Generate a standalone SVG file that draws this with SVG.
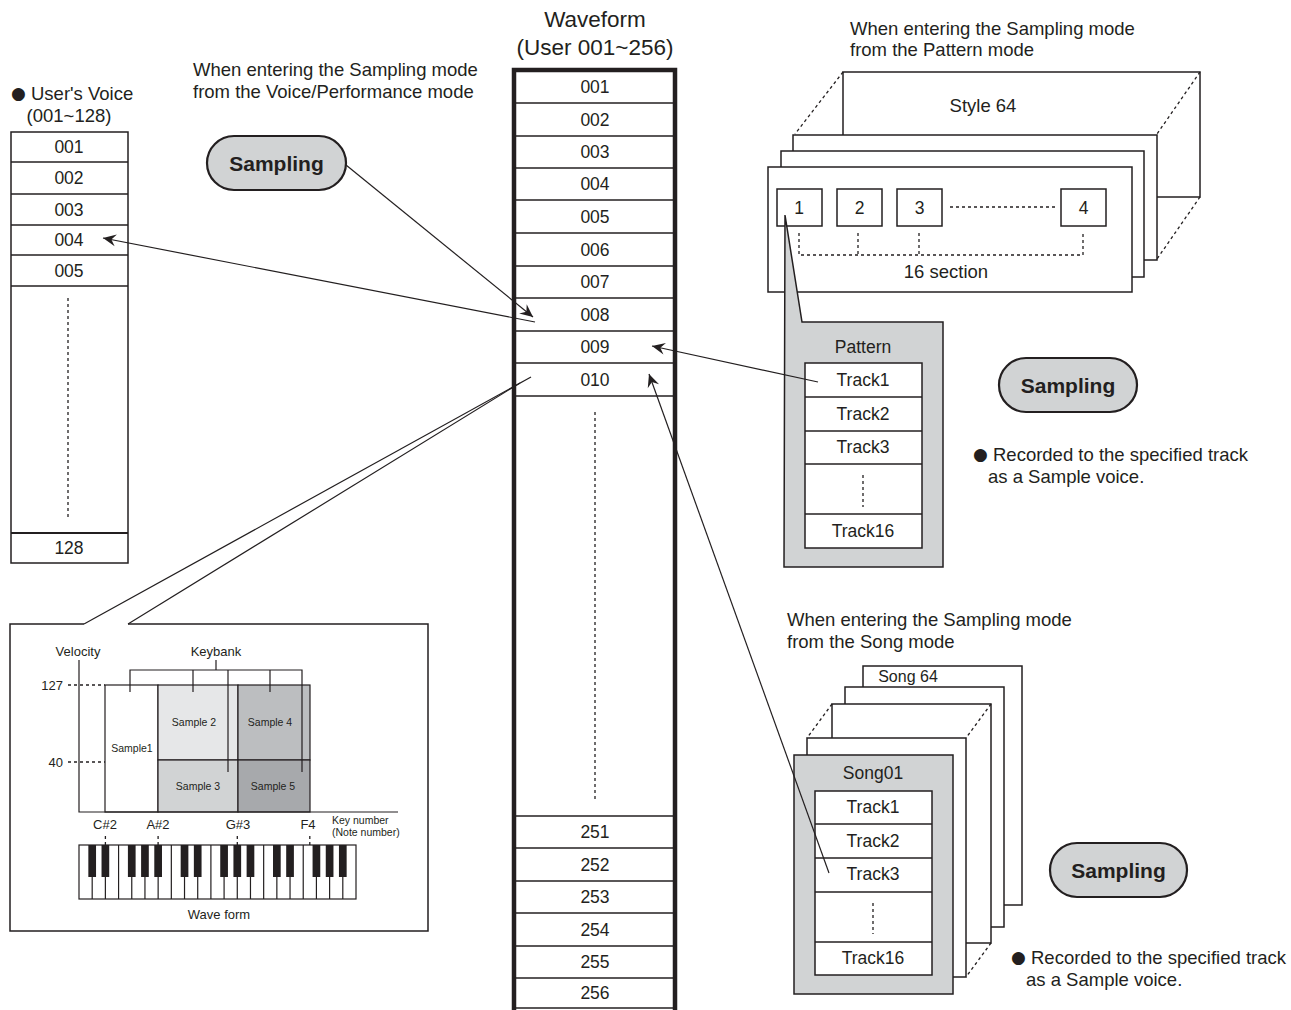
<svg xmlns="http://www.w3.org/2000/svg" width="1291" height="1010" viewBox="0 0 1291 1010">
<style>
.t{font-family:"Liberation Sans",Arial,sans-serif;fill:#231f20}
.c{text-anchor:middle;dominant-baseline:central}
.m{dominant-baseline:central}
.f18{font-size:18.5px}
.f17{font-size:17.5px}
.f16{font-size:16px}
.f13{font-size:13px}
.f10{font-size:10.5px}
.fb{font-size:21px;font-weight:bold}
.bul{font-family:"DejaVu Sans",sans-serif;font-size:17px}
.ln{stroke:#231f20;stroke-width:1.5;fill:none}
.thin{stroke:#231f20;stroke-width:1.2;fill:none}
.box{fill:#fff;stroke:#231f20;stroke-width:1.5}
.dot{stroke:#231f20;stroke-width:1.3;stroke-dasharray:3 3;fill:none}
.btn{fill:#d1d3d4;stroke:#231f20;stroke-width:2.2}
.grey{fill:#d1d3d4;stroke:#231f20;stroke-width:1.5}
.bk{fill:#231f20}
</style>
<defs>
<marker id="ah" viewBox="-15 -8 16 16" refX="0" refY="0" markerWidth="16" markerHeight="16" markerUnits="userSpaceOnUse" orient="auto">
<path d="M0,0 L-13,-6 L-8.5,0 L-13,6 Z" fill="#231f20"/>
</marker>
</defs>
<rect width="1291" height="1010" fill="#fff"/>

<!-- headings -->
<g id="heading-voice">
<text class="t f18 m" x="193" y="69">When entering the Sampling mode</text>
<text class="t f18 m" x="193" y="91">from the Voice/Performance mode</text>
</g>
<g id="heading-pattern">
<text class="t f18 m" x="850" y="28">When entering the Sampling mode</text>
<text class="t f18 m" x="850" y="49">from the Pattern mode</text>
</g>
<g id="heading-song">
<text class="t f18 m" x="787" y="619">When entering the Sampling mode</text>
<text class="t f18 m" x="787" y="641">from the Song mode</text>
</g>

<!-- User's Voice list -->
<g id="users-voice">
<text class="t f18 m" x="11" y="93"><tspan class="bul">●</tspan> User's Voice</text>
<text class="t f18 c" x="69" y="115">(001~128)</text>
<rect class="box" x="11" y="132" width="117" height="431"/>
<line class="ln" x1="11" y1="162" x2="128" y2="162"/>
<line class="ln" x1="11" y1="194" x2="128" y2="194"/>
<line class="ln" x1="11" y1="225" x2="128" y2="225"/>
<line class="ln" x1="11" y1="255" x2="128" y2="255"/>
<line class="ln" x1="11" y1="286" x2="128" y2="286"/>
<line x1="11" y1="533" x2="128" y2="533" stroke="#231f20" stroke-width="2.2"/>
<line class="dot" x1="68" y1="298" x2="68" y2="519" stroke-dasharray="3 3"/>
<text class="t f17 c" x="69" y="147">001</text>
<text class="t f17 c" x="69" y="178">002</text>
<text class="t f17 c" x="69" y="209.5">003</text>
<text class="t f17 c" x="69" y="240">004</text>
<text class="t f17 c" x="69" y="270.5">005</text>
<text class="t f17 c" x="69" y="548">128</text>
</g>

<!-- Waveform column -->
<g id="waveform">
<text class="t c" x="595" y="19" font-size="22.5">Waveform</text>
<text class="t c" x="595" y="47" font-size="22.5">(User 001~256)</text>
<rect x="514" y="70" width="161" height="938" fill="#fff"/>
<g class="ln" stroke-width="1.7">
<line x1="514" y1="103" x2="675" y2="103"/>
<line x1="514" y1="136" x2="675" y2="136"/>
<line x1="514" y1="168" x2="675" y2="168"/>
<line x1="514" y1="200" x2="675" y2="200"/>
<line x1="514" y1="233" x2="675" y2="233"/>
<line x1="514" y1="266" x2="675" y2="266"/>
<line x1="514" y1="298" x2="675" y2="298"/>
<line x1="514" y1="331" x2="675" y2="331"/>
<line x1="514" y1="363" x2="675" y2="363"/>
<line x1="514" y1="396" x2="675" y2="396"/>
<line x1="514" y1="816" x2="675" y2="816"/>
<line x1="514" y1="848" x2="675" y2="848"/>
<line x1="514" y1="881" x2="675" y2="881"/>
<line x1="514" y1="913" x2="675" y2="913"/>
<line x1="514" y1="946" x2="675" y2="946"/>
<line x1="514" y1="978" x2="675" y2="978"/>
<line x1="514" y1="1008" x2="675" y2="1008"/>
</g>
<path d="M514,1010 V70 H675 V1010" fill="none" stroke="#231f20" stroke-width="4.5"/>
<line class="dot" x1="595" y1="412" x2="595" y2="800" stroke-width="1.2"/>
<text class="t f17 c" x="595" y="87">001</text>
<text class="t f17 c" x="595" y="119.5">002</text>
<text class="t f17 c" x="595" y="152">003</text>
<text class="t f17 c" x="595" y="184">004</text>
<text class="t f17 c" x="595" y="216.5">005</text>
<text class="t f17 c" x="595" y="249.5">006</text>
<text class="t f17 c" x="595" y="282">007</text>
<text class="t f17 c" x="595" y="314.5">008</text>
<text class="t f17 c" x="595" y="347">009</text>
<text class="t f17 c" x="595" y="379.5">010</text>
<text class="t f17 c" x="595" y="832">251</text>
<text class="t f17 c" x="595" y="864.5">252</text>
<text class="t f17 c" x="595" y="897">253</text>
<text class="t f17 c" x="595" y="929.5">254</text>
<text class="t f17 c" x="595" y="962">255</text>
<text class="t f17 c" x="595" y="993">256</text>
</g>

<!-- Sampling buttons -->
<g id="sampling-voice">
<rect class="btn" x="207" y="136" width="139" height="54" rx="27"/>
<text class="t fb c" x="276.5" y="163">Sampling</text>
</g>
<g id="sampling-pattern">
<rect class="btn" x="999" y="358" width="138" height="54" rx="27"/>
<text class="t fb c" x="1068" y="385">Sampling</text>
</g>
<g id="sampling-song">
<rect class="btn" x="1050" y="843" width="137" height="54" rx="27"/>
<text class="t fb c" x="1118.5" y="870">Sampling</text>
</g>

<!-- Pattern stack -->
<g id="pattern-stack">
<rect class="box" x="843" y="72" width="357" height="125"/>
<text class="t f18 c" x="983" y="105">Style 64</text>
<line class="dot" x1="843" y1="72" x2="795" y2="134" stroke-dasharray="2 2.5" stroke-width="1"/>
<line class="dot" x1="1200" y1="72" x2="1157" y2="134" stroke-dasharray="2 2.5" stroke-width="1"/>
<line class="dot" x1="1200" y1="197" x2="1157" y2="259" stroke-dasharray="2 2.5" stroke-width="1"/>
<rect class="box" x="793" y="135" width="364" height="125"/>
<rect class="box" x="781" y="151" width="363" height="126"/>
<rect class="box" x="768" y="167" width="364" height="125"/>
<rect class="box" x="777" y="189" width="45" height="37"/>
<rect class="box" x="837" y="189" width="45" height="37"/>
<rect class="box" x="897" y="189" width="45" height="37"/>
<rect class="box" x="1061" y="189" width="45" height="37"/>
<text class="t f17 c" x="799" y="208">1</text>
<text class="t f17 c" x="859.5" y="208">2</text>
<text class="t f17 c" x="919.5" y="208">3</text>
<text class="t f17 c" x="1083.5" y="208">4</text>
<line class="dot" x1="950" y1="207" x2="1055" y2="207" stroke-dasharray="3 3" stroke-width="1.1"/>
<path class="dot" d="M799,233 V255 H1083 V233 M858,233 V255 M919,233 V255" stroke-dasharray="3 3" stroke-width="1.1"/>
<text class="t f18 c" x="946" y="271">16 section</text>
</g>

<!-- Pattern callout -->
<g id="pattern-tracks">
<path class="grey" d="M785,215 L802,322 L943,322 L943,567 L784,567 Z"/>
<text class="t f17 c" x="863" y="347">Pattern</text>
<rect class="box" x="805" y="363" width="117" height="185"/>
<line class="ln" x1="805" y1="397" x2="922" y2="397"/>
<line class="ln" x1="805" y1="431" x2="922" y2="431"/>
<line class="ln" x1="805" y1="464" x2="922" y2="464"/>
<line class="ln" x1="805" y1="514" x2="922" y2="514"/>
<line class="dot" x1="863" y1="475" x2="863" y2="507" stroke-dasharray="3 2.5" stroke-width="1.1"/>
<text class="t f17 c" x="863" y="380">Track1</text>
<text class="t f17 c" x="863" y="413.5">Track2</text>
<text class="t f17 c" x="863" y="447">Track3</text>
<text class="t f17 c" x="863" y="531">Track16</text>
</g>
<g id="note-pattern">
<text class="t f18 m" x="973" y="454"><tspan class="bul">●</tspan> Recorded to the specified track</text>
<text class="t f18 m" x="988" y="476">as a Sample voice.</text>
</g>

<!-- Song stack -->
<g id="song-stack">
<rect class="box" x="863" y="666" width="159" height="239"/>
<text class="t f16 c" x="908" y="676">Song 64</text>
<rect class="box" x="845" y="687" width="159" height="240"/>
<rect class="box" x="832" y="704" width="159" height="239"/>
<line class="dot" x1="832" y1="704" x2="807" y2="738" stroke-dasharray="2 2.5" stroke-width="1"/>
<line class="dot" x1="991" y1="704" x2="966" y2="738" stroke-dasharray="2 2.5" stroke-width="1"/>
<line class="dot" x1="991" y1="943" x2="966" y2="977" stroke-dasharray="2 2.5" stroke-width="1"/>
<rect class="box" x="807" y="738" width="159" height="239"/>
<rect class="grey" x="794" y="755" width="159" height="239"/>
<text class="t f17 c" x="873" y="773">Song01</text>
<rect class="box" x="815" y="791" width="117" height="184"/>
<line class="ln" x1="815" y1="824" x2="932" y2="824"/>
<line class="ln" x1="815" y1="858" x2="932" y2="858"/>
<line class="ln" x1="815" y1="892" x2="932" y2="892"/>
<line class="ln" x1="815" y1="942" x2="932" y2="942"/>
<line class="dot" x1="873" y1="903" x2="873" y2="934" stroke-dasharray="3 2.5" stroke-width="1.1"/>
<text class="t f17 c" x="873" y="807">Track1</text>
<text class="t f17 c" x="873" y="841">Track2</text>
<text class="t f17 c" x="873" y="874">Track3</text>
<text class="t f17 c" x="873" y="958">Track16</text>
</g>
<g id="note-song">
<text class="t f18 m" x="1011" y="957"><tspan class="bul">●</tspan> Recorded to the specified track</text>
<text class="t f18 m" x="1026" y="979">as a Sample voice.</text>
</g>

<!-- Keybank detail -->
<g id="keybank-detail">
<path class="ln" d="M84,624 H10 V931 H428 V624 H128" stroke-width="1.3"/>
<text class="t f13 c" x="78" y="651">Velocity</text>
<text class="t f13 c" x="216" y="651">Keybank</text>
<rect x="105" y="685" width="53" height="127" fill="#fff" stroke="#231f20" stroke-width="1.2"/>
<rect x="158" y="685" width="80" height="75" fill="#e6e7e8" stroke="#231f20" stroke-width="1.2"/>
<rect x="238" y="685" width="72" height="75" fill="#bcbec0" stroke="#231f20" stroke-width="1.2"/>
<rect x="158" y="760" width="80" height="52" fill="#d1d3d4" stroke="#231f20" stroke-width="1.2"/>
<rect x="238" y="760" width="72" height="52" fill="#a7a9ac" stroke="#231f20" stroke-width="1.2"/>
<text class="t f10 c" x="132" y="748">Sample1</text>
<text class="t f10 c" x="194" y="722">Sample 2</text>
<text class="t f10 c" x="270" y="722">Sample 4</text>
<text class="t f10 c" x="198" y="786">Sample 3</text>
<text class="t f10 c" x="273" y="786">Sample 5</text>
<path class="thin" d="M79,660 V812 H398"/>
<path class="thin" d="M130,692 V670 H302 V772 M216,670 V660 M193,670 V692 M228,670 V772 M270,670 V692"/>
<text class="t f13" x="63" y="685" text-anchor="end" dominant-baseline="central">127</text>
<text class="t f13" x="63" y="762" text-anchor="end" dominant-baseline="central">40</text>
<line class="dot" x1="68" y1="685" x2="105" y2="685" stroke-dasharray="2.5 3" stroke-width="1"/>
<line class="dot" x1="68" y1="762" x2="105" y2="762" stroke-dasharray="2.5 3" stroke-width="1"/>
<text class="t f13 c" x="105" y="824">C#2</text>
<text class="t f13 c" x="158" y="824">A#2</text>
<text class="t f13 c" x="238" y="824">G#3</text>
<text class="t f13 c" x="308" y="824">F4</text>
<text class="t m" x="332" y="820" font-size="10.5">Key number</text>
<text class="t m" x="332" y="832" font-size="10.5">(Note number)</text>
<g class="dot" stroke-dasharray="2 2" stroke-width="1">
<line x1="105.4" y1="836" x2="105.4" y2="845"/>
<line x1="158.1" y1="836" x2="158.1" y2="845"/>
<line x1="237.3" y1="836" x2="237.3" y2="845"/>
<line x1="309.8" y1="836" x2="309.8" y2="845"/>
</g>
<rect x="79" y="845" width="277" height="54" fill="#fff" stroke="#231f20" stroke-width="1.2"/>
<g class="thin" stroke-width="1">
<line x1="92.19" y1="845" x2="92.19" y2="899"/>
<line x1="105.38" y1="845" x2="105.38" y2="899"/>
<line x1="118.57" y1="845" x2="118.57" y2="899"/>
<line x1="131.76" y1="845" x2="131.76" y2="899"/>
<line x1="144.95" y1="845" x2="144.95" y2="899"/>
<line x1="158.14" y1="845" x2="158.14" y2="899"/>
<line x1="171.33" y1="845" x2="171.33" y2="899"/>
<line x1="184.52" y1="845" x2="184.52" y2="899"/>
<line x1="197.71" y1="845" x2="197.71" y2="899"/>
<line x1="210.9" y1="845" x2="210.9" y2="899"/>
<line x1="224.09" y1="845" x2="224.09" y2="899"/>
<line x1="237.28" y1="845" x2="237.28" y2="899"/>
<line x1="250.47" y1="845" x2="250.47" y2="899"/>
<line x1="263.66" y1="845" x2="263.66" y2="899"/>
<line x1="276.85" y1="845" x2="276.85" y2="899"/>
<line x1="290.04" y1="845" x2="290.04" y2="899"/>
<line x1="303.23" y1="845" x2="303.23" y2="899"/>
<line x1="316.42" y1="845" x2="316.42" y2="899"/>
<line x1="329.61" y1="845" x2="329.61" y2="899"/>
<line x1="342.8" y1="845" x2="342.8" y2="899"/>
</g>
<g class="bk">
<rect x="88.34" y="845" width="7.7" height="32"/>
<rect x="101.53" y="845" width="7.7" height="32"/>
<rect x="127.91" y="845" width="7.7" height="32"/>
<rect x="141.1" y="845" width="7.7" height="32"/>
<rect x="154.29" y="845" width="7.7" height="32"/>
<rect x="180.67" y="845" width="7.7" height="32"/>
<rect x="193.86" y="845" width="7.7" height="32"/>
<rect x="220.24" y="845" width="7.7" height="32"/>
<rect x="233.43" y="845" width="7.7" height="32"/>
<rect x="246.62" y="845" width="7.7" height="32"/>
<rect x="273" y="845" width="7.7" height="32"/>
<rect x="286.19" y="845" width="7.7" height="32"/>
<rect x="312.57" y="845" width="7.7" height="32"/>
<rect x="325.76" y="845" width="7.7" height="32"/>
<rect x="338.95" y="845" width="7.7" height="32"/>
</g>
<text class="t f13 c" x="219" y="914">Wave form</text>
</g>

<!-- connectors -->
<g id="connectors" class="thin">
<line x1="346" y1="165" x2="533" y2="317" marker-end="url(#ah)"/>
<line x1="535" y1="322" x2="103" y2="238" marker-end="url(#ah)"/>
<line x1="818" y1="382" x2="652" y2="346" marker-end="url(#ah)"/>
<line x1="829" y1="873" x2="649" y2="374" marker-end="url(#ah)"/>
<line x1="84" y1="624" x2="531" y2="377"/>
<line x1="128" y1="624" x2="520" y2="383"/>
</g>
</svg>
